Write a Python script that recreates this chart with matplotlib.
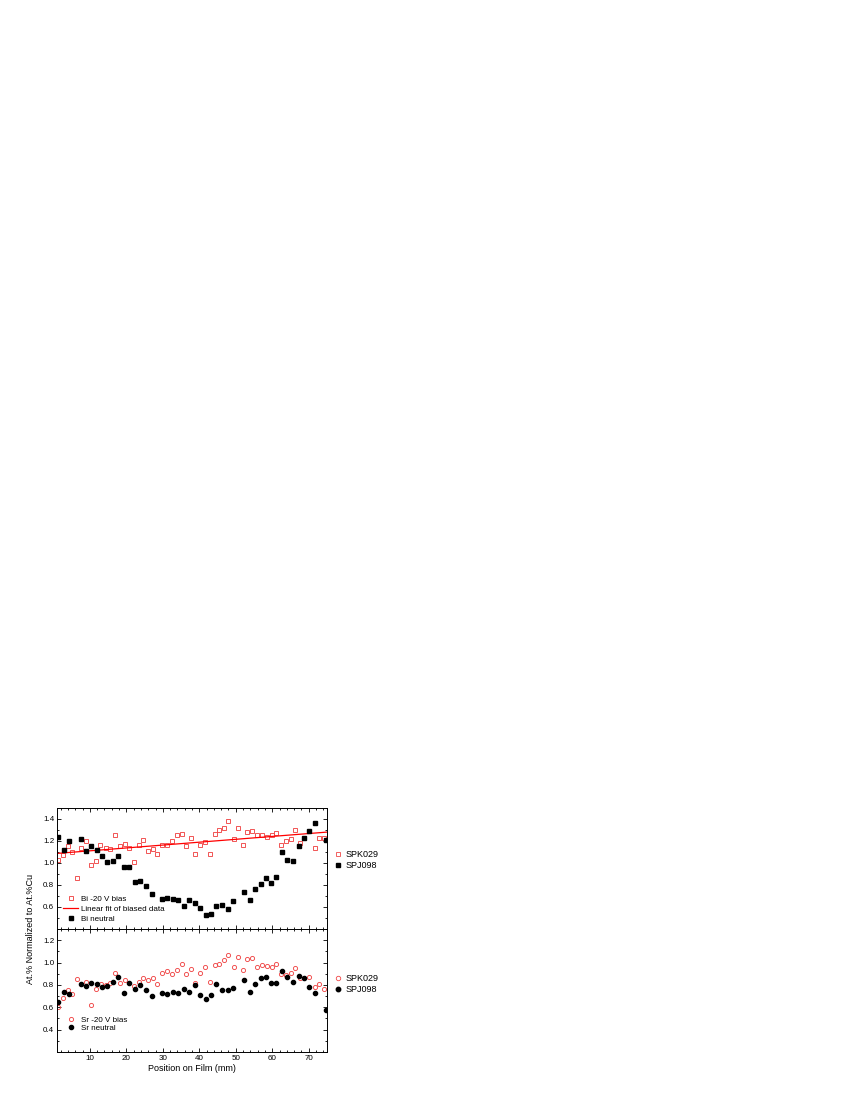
import numpy as np
import matplotlib
matplotlib.use('Agg')
import matplotlib.pyplot as plt
from matplotlib.lines import Line2D
from matplotlib.ticker import MultipleLocator

plt.rcParams['font.family'] = ['Liberation Sans', 'DejaVu Sans']

# Bi, -20 V bias (SPK029)
bi_bias_x = [1.2, 2.5, 3.9, 5.0, 6.4, 7.7, 9.0, 10.3, 11.6, 12.9, 14.3, 15.5, 16.8, 18.2,
             19.6, 20.8, 22.0, 23.4, 24.7, 26.0, 27.3, 28.5, 29.9, 31.2, 32.5, 33.8, 35.2,
             36.4, 37.6, 38.9, 40.3, 41.5, 42.8, 44.2, 45.5, 46.7, 48.0, 49.4, 50.7, 52.0,
             53.1, 54.5, 55.9, 57.1, 58.5, 59.8, 61.0, 62.4, 63.7, 65.0, 66.2, 67.6, 71.6,
             72.9, 74.2]
bi_bias_y = [1.03, 1.07, 1.15, 1.10, 0.86, 1.14, 1.20, 0.98, 1.02, 1.16, 1.14, 1.13, 1.25, 1.15,
             1.17, 1.14, 1.01, 1.16, 1.21, 1.11, 1.13, 1.08, 1.16, 1.16, 1.20, 1.25, 1.26,
             1.15, 1.23, 1.08, 1.16, 1.19, 1.08, 1.26, 1.30, 1.32, 1.38, 1.22, 1.32, 1.16,
             1.28, 1.29, 1.25, 1.25, 1.24, 1.25, 1.27, 1.16, 1.20, 1.22, 1.30, 1.18, 1.14,
             1.23, 1.23]

# Bi, neutral (SPJ098)
bi_neut_x = [1.4, 2.9, 4.4, 7.5, 9.0, 10.4, 11.9, 13.4, 14.8, 16.3, 17.7, 19.3, 20.8, 22.3,
             23.8, 25.3, 26.9, 29.8, 31.2, 32.7, 34.2, 35.7, 37.3, 38.8, 40.3, 41.7, 43.3,
             44.7, 46.3, 47.8, 49.3, 52.3, 53.8, 55.3, 56.8, 58.2, 59.7, 61.1, 62.7, 64.1,
             65.7, 67.2, 68.7, 70.2, 71.6, 74.7]
bi_neut_y = [1.24, 1.12, 1.20, 1.22, 1.11, 1.15, 1.12, 1.06, 1.01, 1.02, 1.06, 0.96, 0.96, 0.83,
             0.84, 0.79, 0.72, 0.67, 0.68, 0.67, 0.66, 0.61, 0.66, 0.64, 0.59, 0.53, 0.54,
             0.61, 0.62, 0.58, 0.65, 0.74, 0.66, 0.76, 0.81, 0.86, 0.82, 0.87, 1.10, 1.03,
             1.02, 1.15, 1.23, 1.29, 1.36, 1.21]

# linear fit of biased Bi data: slope, intercept
bi_fit = [0.00262, 1.084]

# Sr, -20 V bias (SPK029)
sr_bias_x = [1.2, 2.5, 3.9, 5.2, 6.4, 7.6, 9.0, 10.3, 11.6, 13.0, 14.3, 15.6, 16.8, 18.2,
             19.5, 22.0, 23.4, 24.7, 26.0, 27.3, 28.5, 29.9, 31.2, 32.5, 33.8, 35.2, 36.4,
             37.6, 38.9, 40.3, 41.5, 43.0, 44.2, 45.5, 46.7, 48.0, 49.4, 50.7, 52.0, 53.2,
             54.5, 55.9, 57.1, 58.5, 59.8, 61.0, 62.4, 63.7, 65.0, 66.2, 67.6, 70.1, 71.6,
             72.9, 74.2]
sr_bias_y = [0.60, 0.68, 0.75, 0.72, 0.85, 0.81, 0.83, 0.62, 0.76, 0.81, 0.80, 0.82, 0.91, 0.82,
             0.84, 0.79, 0.83, 0.86, 0.84, 0.86, 0.81, 0.91, 0.92, 0.90, 0.93, 0.99, 0.90,
             0.94, 0.82, 0.91, 0.96, 0.83, 0.98, 0.99, 1.02, 1.07, 0.96, 1.05, 0.93, 1.03,
             1.04, 0.96, 0.98, 0.97, 0.96, 0.99, 0.90, 0.89, 0.91, 0.95, 0.86, 0.87, 0.78,
             0.81, 0.76]

# Sr, neutral (SPJ098)
sr_neut_x = bi_neut_x
sr_neut_y = [0.65, 0.74, 0.72, 0.81, 0.79, 0.82, 0.81, 0.78, 0.79, 0.83, 0.87, 0.73, 0.82, 0.76,
             0.80, 0.75, 0.70, 0.73, 0.72, 0.74, 0.73, 0.76, 0.74, 0.80, 0.71, 0.67, 0.71,
             0.81, 0.75, 0.75, 0.77, 0.84, 0.74, 0.81, 0.86, 0.87, 0.82, 0.82, 0.92, 0.87,
             0.83, 0.88, 0.86, 0.78, 0.73, 0.58]

RED = '#f04848'
FS = 5.8


def style_axis(ax, ylim, yticks):
    ax.set_xlim(1, 75)
    ax.set_ylim(*ylim)
    ax.xaxis.set_major_locator(MultipleLocator(10))
    ax.xaxis.set_minor_locator(MultipleLocator(2))
    ax.set_yticks(yticks)
    ax.yaxis.set_minor_locator(MultipleLocator(0.1))
    ax.tick_params(which='both', direction='in', top=True, right=True, labelsize=FS, pad=2)
    ax.tick_params(which='major', length=3, width=0.6)
    ax.tick_params(which='minor', length=1.6, width=0.6)
    for s in ax.spines.values():
        s.set_linewidth(0.7)


def side_legend(ax, marker, ypos):
    h = [Line2D([], [], ls='none', marker=marker, ms=3.2, mfc='none', mec=RED, mew=0.6),
         Line2D([], [], ls='none', marker=marker, ms=3.2, mfc='black', mec='black')]
    leg = ax.legend(h, ['SPK029', 'SPJ098'], loc='center left', bbox_to_anchor=(1.0, ypos),
                    frameon=False, fontsize=6.5, handletextpad=0.3, borderaxespad=0.3,
                    labelspacing=0.25, handlelength=1.0)
    return leg


fig = plt.figure(figsize=(8.5, 11), dpi=100)
ax1 = fig.add_axes([0.0671, 0.1555, 0.3176, 0.110])
ax2 = fig.add_axes([0.0671, 0.0436, 0.3176, 0.1119])

# top panel: Bi
p1, = ax1.plot(bi_bias_x, bi_bias_y, ls='none', marker='s', ms=3.0, mfc='none', mec=RED, mew=0.65)
xf = np.array([1, 75])
p2, = ax1.plot(xf, np.polyval(bi_fit, xf), color='red', lw=0.9)
p3, = ax1.plot(bi_neut_x, bi_neut_y, ls='none', marker='s', ms=2.9, color='black')
style_axis(ax1, (0.4, 1.5), [0.6, 0.8, 1.0, 1.2, 1.4])
ax1.tick_params(labelbottom=False)
leg = ax1.legend([p1, p2, p3], ['Bi -20 V bias', 'Linear fit of biased data', 'Bi neutral'],
                 loc='lower left', frameon=False, fontsize=5.8, handlelength=1.8,
                 handletextpad=0.4, labelspacing=0.25, borderaxespad=0.4)
ax1.add_artist(leg)
side_legend(ax1, 's', 0.57)

# bottom panel: Sr
q1, = ax2.plot(sr_bias_x, sr_bias_y, ls='none', marker='o', ms=3.0, mfc='none', mec=RED, mew=0.65)
q2, = ax2.plot(sr_neut_x, sr_neut_y, ls='none', marker='o', ms=3.0, color='black')
style_axis(ax2, (0.2, 1.3), [0.4, 0.6, 0.8, 1.0, 1.2])
leg2 = ax2.legend([q1, q2], ['Sr -20 V bias', 'Sr neutral'], loc='lower left',
                  bbox_to_anchor=(0.0, 0.11), frameon=False, fontsize=5.8, handlelength=1.8,
                  handletextpad=0.4, labelspacing=0.1, borderaxespad=0.4)
ax2.add_artist(leg2)
side_legend(ax2, 'o', 0.55)
ax2.set_xlabel('Position on Film (mm)', fontsize=6.5, labelpad=1.5)

fig.text(0.036, 0.1555, 'At.% Normalized to At.%Cu', rotation=90, fontsize=6.5,
         ha='center', va='center')

fig.savefig('out.png', dpi=100)
